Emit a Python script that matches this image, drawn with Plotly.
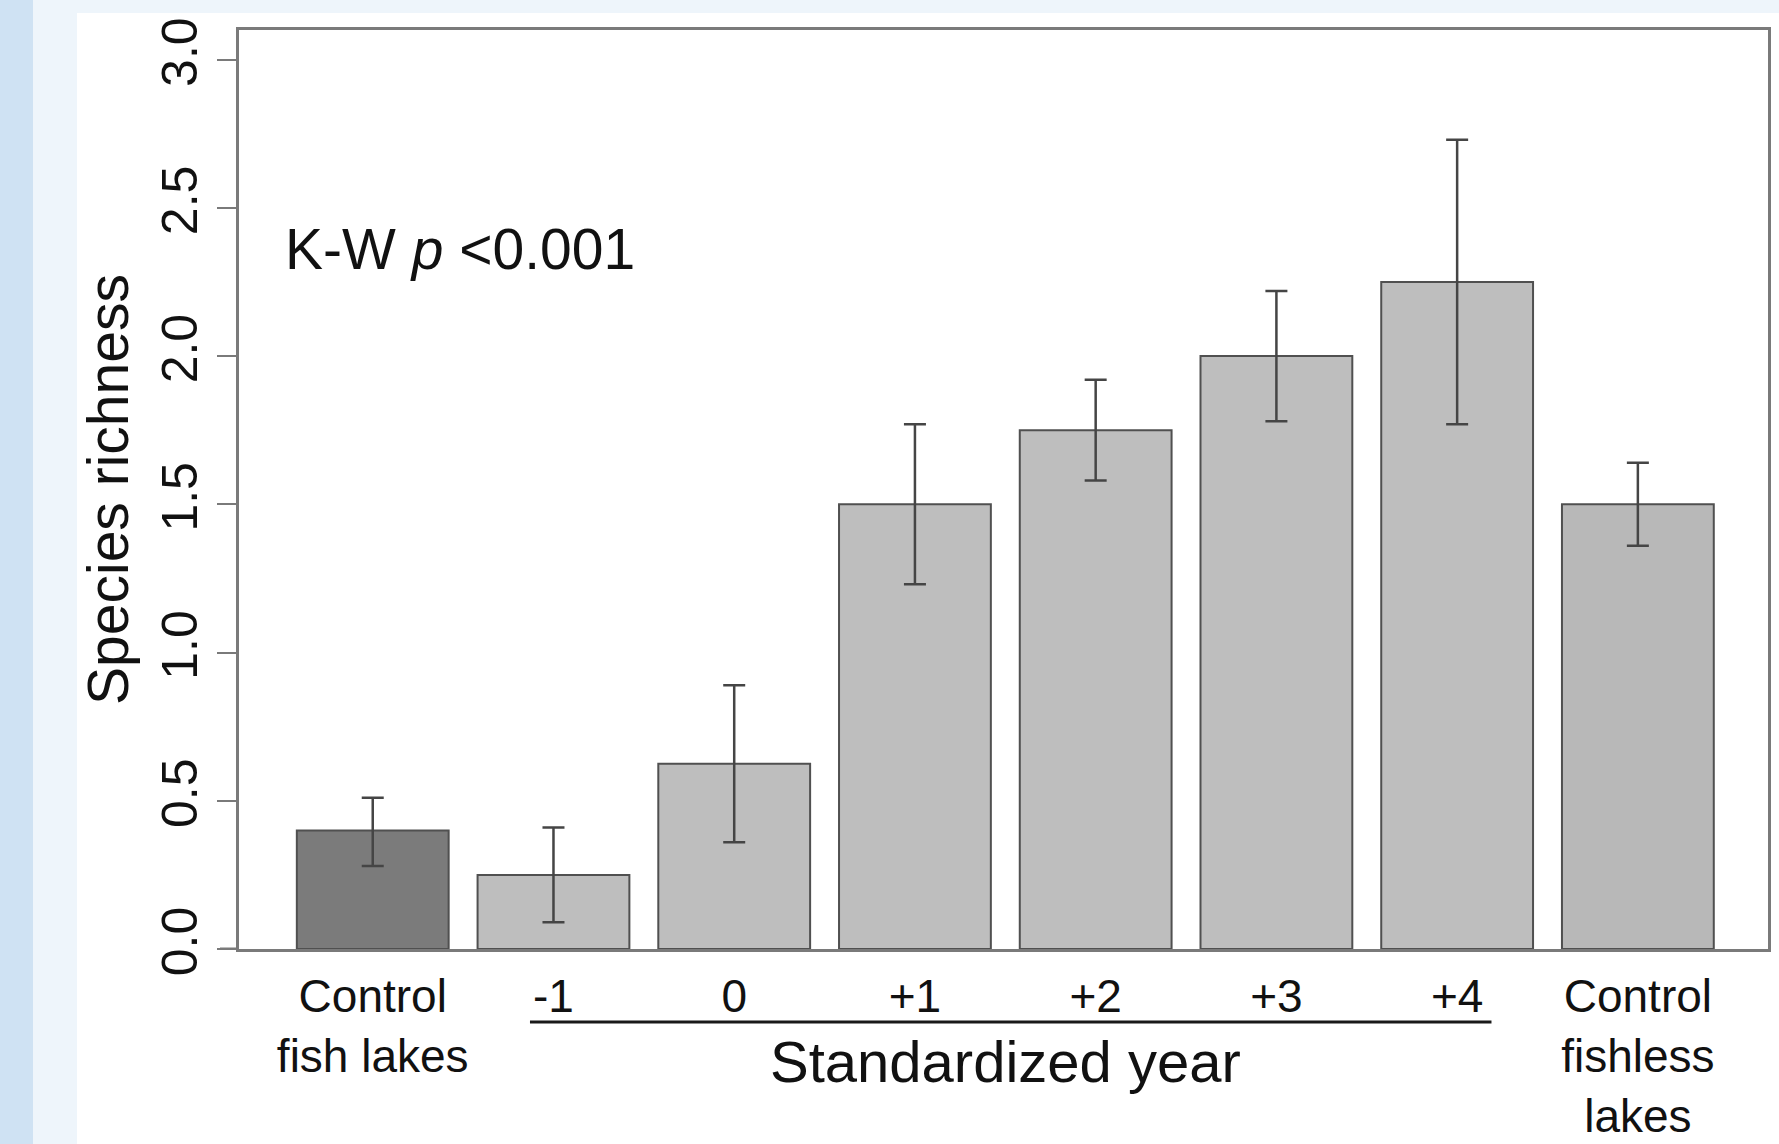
import plotly.graph_objects as go

# ---- data ----
categories = ["Control<br>fish lakes", "-1", "0", "+1", "+2", "+3", "+4",
              "Control<br>fishless<br>lakes"]
richness_mean = [0.40, 0.25, 0.625, 1.50, 1.75, 2.00, 2.25, 1.50]
err_upper = [0.51, 0.41, 0.89, 1.77, 1.92, 2.22, 2.73, 1.64]
err_lower = [0.28, 0.09, 0.36, 1.23, 1.58, 1.78, 1.77, 1.36]
bar_colors = ["#7b7b7b", "#bebebe", "#bebebe", "#bebebe", "#bebebe",
              "#bebebe", "#bebebe", "#b8b8b8"]
y_ticks = [0.0, 0.5, 1.0, 1.5, 2.0, 2.5, 3.0]
y_ticktext = ["0.0", "0.5", "1.0", "1.5", "2.0", "2.5", "3.0"]

W, H = 1779, 1144
L, R, T, B = 239, 11, 30, 195
pw, ph = W - L - R, H - T - B

def px_x(p):
    return (p - L) / pw

def px_y(p):
    return (H - B - p) / ph

FONT = "Liberation Sans, Arial, sans-serif"
TXT = "#111111"
AX = "#7a7a7a"

fig = go.Figure()
fig.add_trace(go.Bar(
    x=categories,
    y=richness_mean,
    width=0.84,
    marker=dict(color=bar_colors, line=dict(color="#505050", width=2)),
    error_y=dict(
        type="data", symmetric=False,
        array=[u - m for u, m in zip(err_upper, richness_mean)],
        arrayminus=[m - l for m, l in zip(richness_mean, err_lower)],
        color="#454545", thickness=2.5, width=11,
    ),
    showlegend=False,
))

fig.update_layout(
    width=W, height=H,
    margin=dict(l=L, r=R, t=T, b=B, autoexpand=False),
    paper_bgcolor="white",
    plot_bgcolor="white",
    font=dict(family=FONT, color=TXT),
    xaxis=dict(
        type="category",
        range=[-0.74, 7.72],
        automargin=False,
        showgrid=False, zeroline=False,
        showline=True, linecolor=AX, linewidth=3, mirror=True,
        ticks="", tickfont=dict(size=46, family=FONT, color=TXT),
        ticklabelstandoff=5,
    ),
    yaxis=dict(
        range=[0, 3.1],
        automargin=False,
        tickvals=y_ticks, ticktext=y_ticktext,
        tickangle=-90,
        tickfont=dict(size=50, family=FONT, color=TXT),
        ticks="outside", ticklen=19, tickwidth=2, tickcolor=AX,
        showgrid=False, zeroline=False,
        showline=True, linecolor=AX, linewidth=3, mirror=True,
        title=dict(text="Species richness", font=dict(size=57, family=FONT, color=TXT),
                   standoff=6),
    ),
)

# background strips of the page
fig.add_shape(type="rect", xref="paper", yref="paper", layer="below",
              x0=px_x(0), x1=px_x(W), y0=px_y(0), y1=px_y(13),
              fillcolor="#eef5fb", line=dict(width=0))
fig.add_shape(type="rect", xref="paper", yref="paper", layer="below",
              x0=px_x(0), x1=px_x(77), y0=px_y(0), y1=px_y(H),
              fillcolor="#eef5fb", line=dict(width=0))
fig.add_shape(type="rect", xref="paper", yref="paper", layer="below",
              x0=px_x(0), x1=px_x(33), y0=px_y(0), y1=px_y(H),
              fillcolor="#cfe2f3", line=dict(width=0))

# extension of the bottom axis line to the left
fig.add_shape(type="line", xref="paper", yref="y",
              x0=px_x(220), x1=0, y0=0, y1=0,
              line=dict(color=AX, width=3))

# underline grouping standardized years
fig.add_shape(type="line", xref="x", yref="paper",
              x0=0.87, x1=6.19, y0=px_y(1022), y1=px_y(1022),
              line=dict(color="#1a1a1a", width=3))

fig.add_annotation(text="Standardized year", xref="x", yref="paper",
                   x=3.5, y=px_y(1061), xanchor="center", yanchor="middle",
                   showarrow=False, font=dict(size=58, family=FONT, color=TXT))

fig.add_annotation(text="K-W <i>p</i> &lt;0.001", xref="paper", yref="y",
                   x=px_x(283), y=2.36, xanchor="left", yanchor="middle",
                   showarrow=False, font=dict(size=57, family=FONT, color=TXT))

fig.write_html(
    "out.html",
    config={"displayModeBar": False},
    post_script="document.body.style.margin='0';document.body.style.overflow='hidden';",
)
